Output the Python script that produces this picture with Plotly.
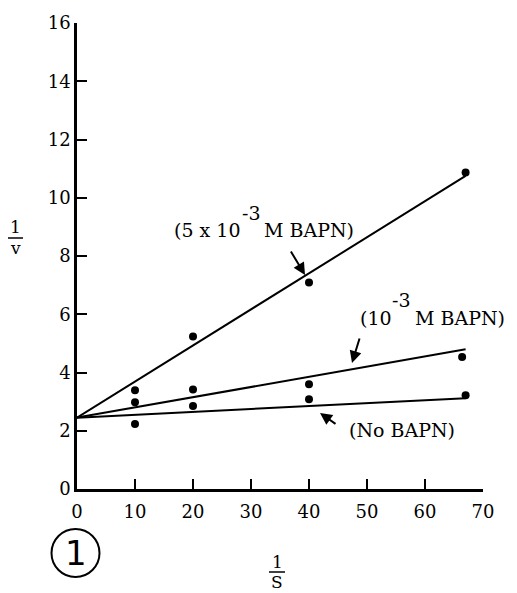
import plotly.graph_objects as go

# ---- data ----
x_none = [10, 20, 40, 67]
y_none = [2.23, 2.85, 3.08, 3.22]
x_1mM = [10, 20, 40, 66.4]
y_1mM = [2.98, 3.42, 3.60, 4.53]
x_5mM = [10, 20, 40, 67]
y_5mM = [3.39, 5.24, 7.09, 10.87]

line_x = [0, 67]
line_none = [2.45, 3.12]
line_1mM = [2.45, 4.80]
line_5mM = [2.45, 10.75]

x_ticks = [0, 10, 20, 30, 40, 50, 60, 70]
y_ticks = [0, 2, 4, 6, 8, 10, 12, 14, 16]

# ---- layout helpers (pixel -> paper) ----
W, H = 517, 593
PL, PT, PW, PH = 77, 23, 406, 466


def px(xp):
    return (xp - PL) / PW


def py(yp):
    return (PT + PH - yp) / PH


FONT = "DejaVu Serif"
fig = go.Figure()

for lx, ly in [(line_x, line_none), (line_x, line_1mM), (line_x, line_5mM)]:
    fig.add_trace(go.Scatter(x=lx, y=ly, mode="lines",
                             line=dict(color="black", width=2),
                             hoverinfo="skip", showlegend=False))

for sx, sy in [(x_none, y_none), (x_1mM, y_1mM), (x_5mM, y_5mM)]:
    fig.add_trace(go.Scatter(x=sx, y=sy, mode="markers",
                             marker=dict(color="black", size=8),
                             showlegend=False))

ann = []


def txt(t, xp, yp, size=19, xanchor="left", fam=FONT):
    ann.append(dict(text=t, x=px(xp), y=py(yp), xref="paper", yref="paper",
                    xanchor=xanchor, yanchor="middle", showarrow=False,
                    font=dict(family=fam, size=size, color="black")))


def arrow(hx, hy, tx, ty):
    ann.append(dict(text="", x=px(hx), y=py(hy), xref="paper", yref="paper",
                    ax=tx - hx, ay=ty - hy, showarrow=True, arrowhead=2,
                    arrowsize=1.2, arrowwidth=2, arrowcolor="black", standoff=0))


# labels
txt("(5 x 10", 172, 230)
txt("-3", 240, 213)
txt("M BAPN)", 262, 230)
arrow(305, 275, 290, 250)

txt("(10", 358, 318)
txt("-3", 390, 300)
txt("M BAPN)", 413, 318)
arrow(352, 363, 360, 337)

txt("(No BAPN)", 347, 430)
arrow(320, 413, 337, 425)

# axis titles as fractions
txt("1", 16, 227, size=17, xanchor="center")
txt("v", 16, 248, size=17, xanchor="center")
txt("1", 277, 562, size=17, xanchor="center")
txt("S", 277, 582, size=17, xanchor="center")

# circled 1
txt("1", 76, 553, size=34, xanchor="center", fam="DejaVu Sans")

shapes = [
    dict(type="line", xref="paper", yref="paper", x0=px(8), x1=px(23),
         y0=py(238), y1=py(238), line=dict(color="black", width=1.5)),
    dict(type="line", xref="paper", yref="paper", x0=px(269), x1=px(285),
         y0=py(572), y1=py(572), line=dict(color="black", width=1.5)),
    dict(type="circle", xref="paper", yref="paper", xsizemode="pixel",
         ysizemode="pixel", xanchor=px(75.5), yanchor=py(553),
         x0=-24, x1=24, y0=-24, y1=24, line=dict(color="black", width=2)),
]

axis_common = dict(showgrid=False, zeroline=False, showline=True,
                   linecolor="black", linewidth=2.5, ticks="inside",
                   ticklen=10, tickwidth=2, tickcolor="black",
                   tickfont=dict(family=FONT, size=18, color="black"))

fig.update_layout(
    width=W, height=H,
    margin=dict(l=PL, r=W - PL - PW, t=PT, b=H - PT - PH),
    paper_bgcolor="white", plot_bgcolor="white",
    xaxis=dict(range=[0, 70], tickvals=x_ticks, ticktext=[str(v) for v in x_ticks],
               ticklabelstandoff=5, **axis_common),
    yaxis=dict(range=[0, 16], tickvals=y_ticks, ticktext=[str(v) for v in y_ticks],
               **axis_common),
    annotations=ann, shapes=shapes,
)

fig.write_html("out.html", config={"displayModeBar": False},
               post_script="document.body.style.margin='0';document.body.style.overflow='hidden';")
